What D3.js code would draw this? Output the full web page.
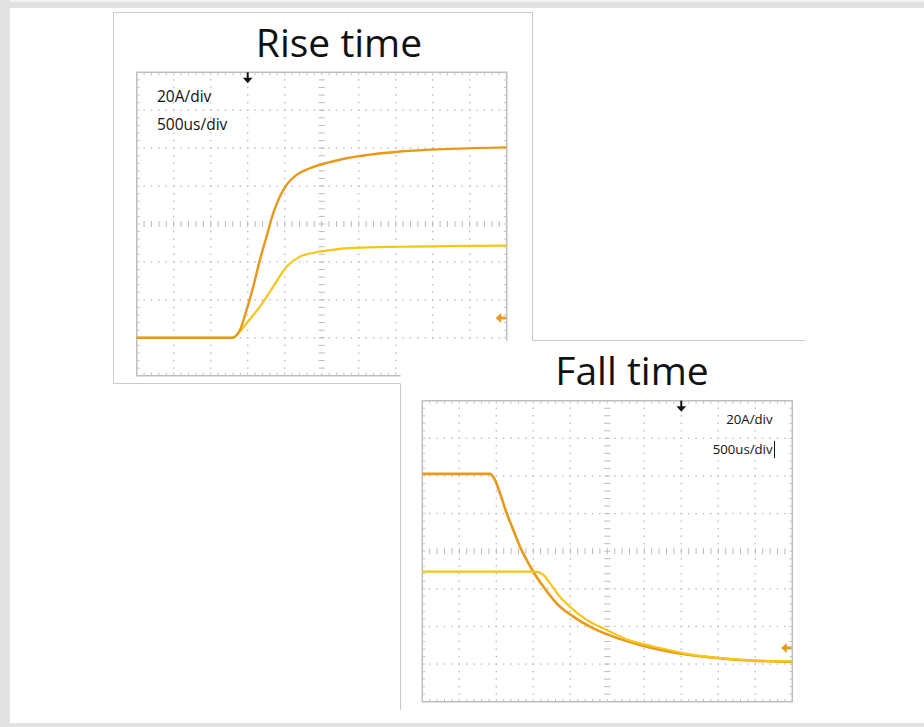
<!DOCTYPE html>
<html lang="en">
<head>
<meta charset="utf-8">
<title>Rise time / Fall time</title>
<script src="https://cdn.jsdelivr.net/npm/d3@7/dist/d3.min.js"></script>
<style>
  body { margin: 0; background: #fff; }
  svg { display: block; }
</style>
</head>
<body>
<script>
// Scope captures, time in us (500us/div), current in A (20A/div)
var riseOrange = [[0,0],[1290,0],[1395,4.1],[1485,14.7],[1575,27.0],[1665,41.1],[1755,53.4],
                  [1845,65.7],[1935,74.5],[2025,80.6],[2160,85.9],[2340,89.4],[2570,92.2],
                  [2800,94.4],[3100,96.3],[3560,98.2],[4235,99.6],[5000,100.4]];
var riseYellow = [[0,0],[1290,0],[1395,3.3],[1485,7.7],[1665,16.4],[1845,27.0],[2025,37.5],
                  [2205,42.8],[2475,45.4],[2725,46.8],[2950,47.4],[3560,48.0],[5000,48.6]];
var fallOrange = [[0,101.1],[915,101.1],[980,98.0],[1050,90.8],[1140,80.2],[1230,71.3],
                  [1320,62.4],[1410,55.4],[1500,49.1],[1635,41.2],[1815,32.3],[2040,25.2],
                  [2310,19.0],[2580,14.6],[2940,10.2],[3615,4.8],[4290,2.2],[5000,1.2]];
var fallYellow = [[0,49.1],[1525,49.1],[1635,47.4],[1725,43.0],[1860,35.8],[1995,30.5],
                  [2220,23.5],[2490,18.2],[2800,12.6],[3100,9.6],[3615,5.2],[4290,2.4],[5000,1.3]];

var titles = ["Rise time", "Fall time"];
var scaleLabels = ["20A/div", "500us/div"];
var triggerTimes = [1500, 3500];   // trigger marker position, us
var groundLevels = [10.4, 8.6];    // channel marker on right edge, A

var timeDomain = [0, 5000], ampDomain = [-20, 140];
var orange = "#e8981a", yellow = "#f6c516", gridGray = "#b9b9b9";

var svg = d3.select("body").append("svg")
    .attr("width", 924).attr("height", 727);

svg.append("rect").attr("width", 924).attr("height", 727).attr("fill", "#fff");

// page frame
svg.append("rect").attr("x", 0).attr("y", 0).attr("width", 924).attr("height", 8).attr("fill", "#e0e0e0");
svg.append("rect").attr("x", 0).attr("y", 0).attr("width", 924).attr("height", 2).attr("fill", "#f2f2f2");
svg.append("rect").attr("x", 0).attr("y", 0).attr("width", 10).attr("height", 727).attr("fill", "#e2e2e2");
svg.append("rect").attr("x", 0).attr("y", 723).attr("width", 924).attr("height", 4).attr("fill", "#e2e2e2");

function drawScope(g, x, y) {
    var majorT = d3.range(0, 5001, 500),
        majorA = d3.range(-20, 141, 20),
        minorT = d3.range(0, 5001, 100),
        minorA = d3.range(-20, 141, 4);

    // dotted grid
    majorT.slice(1, -1).filter(function(t) { return t != 2500; }).forEach(function(t) {
        g.selectAll(null).data(minorA.slice(1, -1)).enter().append("rect")
            .attr("x", x(t) - 0.7).attr("y", function(a) { return y(a) - 0.7; })
            .attr("width", 1.4).attr("height", 1.4).attr("fill", gridGray);
    });
    majorA.slice(1, -1).filter(function(a) { return a != 60; }).forEach(function(a) {
        g.selectAll(null).data(minorT.slice(1, -1)).enter().append("rect")
            .attr("x", function(t) { return x(t) - 0.7; }).attr("y", y(a) - 0.7)
            .attr("width", 1.4).attr("height", 1.4).attr("fill", gridGray);
    });

    // centre cross, tick marks only
    g.selectAll(null).data(minorA.slice(1, -1)).enter().append("line")
        .attr("x1", x(2500) - 3).attr("x2", x(2500) + 3)
        .attr("y1", function(a) { return y(a); }).attr("y2", function(a) { return y(a); })
        .attr("stroke", gridGray).attr("stroke-width", 1);
    g.selectAll(null).data(minorT.slice(1, -1)).enter().append("line")
        .attr("y1", y(60) - 3).attr("y2", y(60) + 3)
        .attr("x1", function(t) { return x(t); }).attr("x2", function(t) { return x(t); })
        .attr("stroke", gridGray).attr("stroke-width", 1);

    // border with inward minor ticks
    var x0 = x(timeDomain[0]), x1 = x(timeDomain[1]), y0 = y(ampDomain[0]), y1 = y(ampDomain[1]);
    g.append("rect").attr("x", x0).attr("y", y1).attr("width", x1 - x0).attr("height", y0 - y1)
        .attr("fill", "none").attr("stroke", "#bdbdbd").attr("stroke-width", 1.5);
    [[y1, 1], [y0, -1]].forEach(function(s) {
        g.selectAll(null).data(minorT).enter().append("line")
            .attr("x1", function(t) { return x(t); }).attr("x2", function(t) { return x(t); })
            .attr("y1", s[0]).attr("y2", s[0] + 3 * s[1])
            .attr("stroke", "#c4c4c4").attr("stroke-width", 1);
    });
    [[x0, 1], [x1, -1]].forEach(function(s) {
        g.selectAll(null).data(minorA).enter().append("line")
            .attr("y1", function(a) { return y(a); }).attr("y2", function(a) { return y(a); })
            .attr("x1", s[0]).attr("x2", s[0] + 3 * s[1])
            .attr("stroke", "#c4c4c4").attr("stroke-width", 1);
    });
}

function drawTrace(g, x, y, pts, color, w) {
    var line = d3.line()
        .x(function(d) { return x(d[0]); })
        .y(function(d) { return y(d[1]); })
        .curve(d3.curveMonotoneX);
    g.append("path").datum(pts).attr("d", line)
        .attr("fill", "none").attr("stroke", color).attr("stroke-width", w)
        .attr("stroke-linejoin", "round");
}

function drawMarkers(g, x, y, trig, ground) {
    var tx = x(trig), ty = y(ampDomain[1]);
    g.append("line").attr("x1", tx).attr("x2", tx).attr("y1", ty).attr("y2", ty + 8)
        .attr("stroke", "#111").attr("stroke-width", 2);
    g.append("path").attr("d", "M" + (tx - 4.8) + "," + (ty + 5.5) + "L" + (tx + 4.8) + "," + (ty + 5.5) + "L" + tx + "," + (ty + 11) + "Z")
        .attr("fill", "#111");
    var gx = x(timeDomain[1]), gy = y(ground);
    g.append("path").attr("d", "M" + (gx - 11) + "," + gy + "L" + (gx - 5.5) + "," + (gy - 5) + "L" + (gx - 5.5) + "," + (gy + 5) + "Z")
        .attr("fill", orange);
    g.append("line").attr("x1", gx - 6).attr("x2", gx - 0.8).attr("y1", gy).attr("y2", gy)
        .attr("stroke", orange).attr("stroke-width", 2.8);
}

// ---- Rise time panel
var xr = d3.scaleLinear().domain(timeDomain).range([136.7, 506.7]);
var yr = d3.scaleLinear().domain(ampDomain).range([375.7, 72.3]);
var rise = svg.append("g");
drawScope(rise, xr, yr);
drawTrace(rise, xr, yr, riseYellow, yellow, 2.2);
drawTrace(rise, xr, yr, riseOrange, orange, 2.4);
drawMarkers(rise, xr, yr, triggerTimes[0], groundLevels[0]);
rise.append("text").attr("x", 339).attr("y", 57)
    .attr("text-anchor", "middle").style("font-family", "'Open Sans', sans-serif")
    .style("font-size", "39px").attr("fill", "#111").text(titles[0]);
rise.selectAll(".lbl").data(scaleLabels).enter().append("text")
    .attr("x", 157).attr("y", function(d, i) { return 102 + i * 28; })
    .style("font-family", "'Open Sans', sans-serif").style("font-size", "15.5px")
    .attr("fill", "#111").text(function(d) { return d; });

// fall picture sits over the corner of the rise picture
svg.append("rect").attr("x", 400.5).attr("y", 340.5).attr("width", 404).attr("height", 369).attr("fill", "#fff");

// ---- Fall time panel
var xf = d3.scaleLinear().domain(timeDomain).range([422.3, 792.3]);
var yf = d3.scaleLinear().domain(ampDomain).range([701.7, 400.7]);
var fall = svg.append("g");
drawScope(fall, xf, yf);
drawTrace(fall, xf, yf, fallOrange, orange, 2.6);
drawTrace(fall, xf, yf, fallYellow, yellow, 2.2);
drawMarkers(fall, xf, yf, triggerTimes[1], groundLevels[1]);
fall.append("text").attr("x", 632).attr("y", 385)
    .attr("text-anchor", "middle").style("font-family", "'Open Sans', sans-serif")
    .style("font-size", "39px").attr("fill", "#111").text(titles[1]);
fall.selectAll(".lbl").data(scaleLabels).enter().append("text")
    .attr("x", 772.5).attr("y", function(d, i) { return 424 + i * 30; })
    .attr("text-anchor", "end")
    .style("font-family", "'Open Sans', sans-serif").style("font-size", "13.2px")
    .attr("fill", "#111").text(function(d) { return d; });
fall.append("line").attr("x1", 774.5).attr("x2", 774.5).attr("y1", 441).attr("y2", 458)
    .attr("stroke", "#111").attr("stroke-width", 1);

// outline of the two overlapping pictures
svg.append("path").attr("d", "M400.5,710V383.5H113.5V12.5H532.5V340.5H805")
    .attr("fill", "none").attr("stroke", "#c9c9c9").attr("stroke-width", 1);
</script>
</body>
</html>
